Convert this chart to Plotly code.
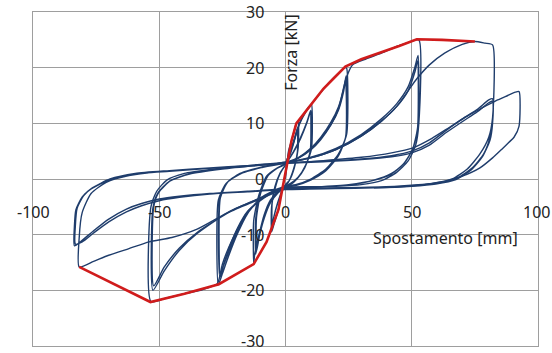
import plotly.graph_objects as go

# ---------------- data (displacement [mm], force [kN]) ----------------
# envelope (red)
env_x = [-81.7, -53.5, -40, -26.4, -12.6, -7.5, -2.8, -0.8, 0.4, 2.4, 4.3, 9.9, 15, 20, 23.7, 30, 37.9, 45, 52, 62, 75]
env_y = [-15.8, -22.1, -20.6, -18.9, -15.3, -11.3, -5.5, -0.9, 2.0, 6.9, 10.0, 13.3, 16.2, 18.5, 20.2, 21.5, 22.7, 23.9, 25.1, 25.0, 24.7]

# cycles at +/-5 mm
lv05_x = [0, 1.2, 2.4, 4.3, 5.0, 5.0, 3.5, 1.5, 0, -1.5, -2.8, -4.5, -5.5, -5.5, -4.0, -2.0, 0,
          2.0, 3.5, 4.8, 4.8, 3.2, 1.2, 0, -1.5, -3.2, -4.8, -5.4, -5.4, -4.2, -2.2, 0,
          2.0, 3.4, 4.7, 4.7, 3.1, 1.1, 0, -1.5, -3.2, -4.7, -5.3, -5.3, -4.1, -2.1, 0]
lv05_y = [0, 5.0, 6.9, 10.0, 10.3, 5.5, 2.0, -0.3, -1.0, -2.0, -5.5, -8.0, -9.5, -5.0, -1.5, 1.2, 2.5,
          4.8, 7.0, 9.2, 5.0, 1.8, -0.5, -1.1, -2.2, -4.5, -7.2, -8.8, -4.5, -1.4, 1.0, 2.6,
          4.6, 6.7, 8.8, 4.8, 1.6, -0.6, -1.2, -2.3, -4.4, -7.0, -8.5, -4.4, -1.3, 1.0, 2.6]

# cycles at +10 / -12 mm
lv10_x = [0, 3.0, 5.5, 8.0, 9.9, 10.3, 10.3, 8.0, 5.0, 2.0, 0, -3.0, -6.0, -8.5, -10.5, -12.2, -12.6, -12.6, -10.5, -7.5, -4.0, 0,
          3.0, 6.0, 8.5, 10.0, 10.0, 7.8, 4.8, 2.0, 0, -3.0, -6.0, -8.5, -10.5, -11.8, -11.8, -10.0, -7.0, -3.5, 0,
          3.0, 6.0, 8.4, 9.8, 9.8, 7.6, 4.7, 2.0, 0, -3.0, -6.0, -8.4, -10.3, -11.5, -11.5, -9.8, -6.9, -3.4, 0]
lv10_y = [2.6, 6.5, 10.0, 12.2, 13.3, 13.4, 5.5, 2.5, 0.3, -0.8, -1.2, -2.2, -3.8, -6.5, -10.0, -13.5, -15.2, -7.5, -2.8, 0.5, 1.8, 2.7,
          4.8, 7.5, 10.3, 12.3, 5.2, 2.2, 0.2, -0.9, -1.3, -2.4, -4.2, -7.0, -10.5, -13.5, -7.2, -2.6, 0.6, 1.9, 2.8,
          4.7, 7.3, 10.0, 11.9, 5.0, 2.0, 0.1, -1.0, -1.4, -2.5, -4.3, -7.0, -10.2, -13.0, -7.0, -2.5, 0.6, 1.9, 2.8]

# cycles at +24 / -26 mm
lv25_x = [0, 3, 5.5, 8, 10, 13, 17, 21, 23.7, 24.2, 24.2, 21, 16, 10, 4, 0, -5, -10, -15, -19, -22.5, -25, -26.6, -26.6, -23.5, -18, -10, -3, 0,
          5, 10, 14, 18, 21, 23.2, 24.0, 24.0, 21, 16, 10, 4, 0, -5, -10, -15, -19, -22, -24.5, -26.0, -26.0, -23, -17, -9, -3, 0,
          5, 10, 14, 18, 21, 23.0, 23.8, 23.8, 20.5, 15.5, 9.5, 4, 0, -5, -10, -15, -19, -22, -24.3, -25.8, -25.8, -22.8, -17, -9, -3, 0]
lv25_y = [2.8, 6.3, 9.8, 12.0, 13.3, 15.0, 17.2, 19.0, 20.0, 19.9, 8.0, 4.5, 1.8, 0, -1.0, -1.3, -2.2, -3.5, -6.2, -9.8, -13.8, -17.0, -19.0, -3.8, -0.8, 1.0, 2.0, 2.6, 2.8,
          3.8, 5.5, 7.5, 10.2, 13.0, 16.5, 18.5, 7.8, 4.2, 1.5, -0.2, -1.1, -1.4, -2.3, -3.8, -6.0, -9.2, -12.5, -15.5, -17.6, -3.5, -0.6, 1.1, 2.1, 2.7, 2.9,
          3.7, 5.2, 7.1, 9.7, 12.4, 15.7, 17.8, 7.5, 4.0, 1.3, -0.3, -1.2, -1.5, -2.4, -3.9, -5.8, -8.8, -12.0, -15.0, -17.0, -3.4, -0.5, 1.2, 2.2, 2.8, 3.0]

# cycles at +/-53 mm
lv50_x = [0, 5, 10, 14, 18, 21, 23.8, 26.5, 32, 38, 44, 49, 52.8, 52.8, 51.5, 48.5, 44, 38, 30, 20, 10, 0, -5, -10, -15, -19, -22.5, -25, -27, -33, -40, -48, -53.3, -53.3, -51, -47, -40, -30, -20, -10, 0,
          10, 20, 30, 38, 44, 48.5, 51.3, 52.5, 52.5, 50.5, 47, 42, 35, 25, 12, 0, -9, -22, -35, -42, -48, -52.5, -52.5, -50.5, -46, -38, -25, -10, 0,
          10, 20, 30, 38, 44, 48.5, 51.3, 52.3, 52.3, 50.2, 46.5, 41.5, 34.5, 24.5, 12, 0, -9, -22, -35, -42, -48, -52.2, -52.2, -50.2, -45.5, -37.5, -24.5, -10, 0]
lv50_y = [3.0, 3.8, 5.4, 7.3, 9.8, 12.6, 17.8, 20.5, 21.6, 22.6, 23.8, 24.6, 25.0, 10.0, 6.0, 3.2, 1.2, -0.3, -1.0, -1.3, -1.4, -1.5, -2.3, -3.7, -5.9, -9.0, -12.3, -15.3, -18.8, -19.9, -20.6, -21.5, -22.0, -5.0, -2.2, -0.2, 1.0, 1.7, 2.2, 2.6, 3.0,
          3.9, 5.5, 8.0, 10.8, 13.5, 16.5, 20.2, 22.2, 9.5, 5.5, 2.8, 1.0, -0.2, -1.0, -1.4, -1.6, -3.3, -5.8, -9.8, -12.8, -16.5, -20.0, -5.2, -2.5, -0.4, 0.9, 1.8, 2.5, 2.9,
          3.8, 5.3, 7.7, 10.4, 13.0, 15.8, 19.3, 21.2, 9.2, 5.2, 2.6, 0.8, -0.3, -1.1, -1.5, -1.7, -3.4, -5.9, -9.6, -12.4, -15.8, -19.2, -5.0, -2.4, -0.3, 1.0, 1.9, 2.5, 2.9]

# cycles at +/-82 mm
lv80_x = [0, 10, 20, 30, 38, 44, 48.5, 52, 57, 63, 70, 75, 79, 82, 82, 80.5, 77, 72, 66, 58, 45, 30, 15, 0, -10, -22, -35, -45, -54, -62, -70, -76, -81.7, -81.7, -80.5, -77, -71, -62, -50, -35, -20, -8, 0,
          15, 30, 42, 50, 57, 63.5, 70, 76, 80.5, 82, 82, 81, 78.5, 74, 68, 60, 50, 35, 20, 0, -15, -30, -42, -50, -57, -63, -70, -76, -81, -83.6, -83.6, -83, -80.5, -77, -70, -60, -46, -30, -15, 0,
          15, 30, 42, 50, 57, 63.5, 70, 76, 80.5, 82, 82, 81, 78, 73.5, 67.5, 59.5, 50, 35, 20, 0, -15, -30, -42, -50, -57, -63, -70, -76, -80.5, -83.2, -83.2, -82.5, -80, -76.5, -69.5, -59.5, -46, -30, -15, 0]
lv80_y = [2.9, 3.8, 5.3, 7.7, 10.4, 13.0, 15.8, 18.0, 20.5, 22.6, 24.2, 24.7, 24.4, 24.1, 11.0, 7.5, 4.5, 1.8, 0, -0.8, -1.3, -1.5, -1.6, -1.7, -3.4, -5.8, -9.0, -10.5, -11.3, -12.5, -13.7, -14.8, -15.8, -10.5, -6.0, -2.6, -0.6, 0.6, 1.3, 1.8, 2.2, 2.6, 2.9,
          3.2, 3.6, 4.2, 5.0, 6.5, 8.7, 10.8, 12.5, 14.2, 14.4, 10.5, 7.5, 4.5, 2.0, 0.2, -0.7, -1.1, -1.5, -1.6, -1.8, -2.2, -2.6, -3.1, -3.6, -4.4, -5.4, -7.2, -9.3, -11.2, -12.0, -8.5, -5.5, -3.2, -1.8, -0.2, 0.9, 1.4, 1.9, 2.3, 2.8,
          3.1, 3.5, 4.0, 4.7, 6.1, 8.3, 10.3, 12.1, 13.7, 14.0, 10.0, 7.0, 4.0, 1.6, -0.1, -0.9, -1.3, -1.6, -1.7, -1.9, -2.3, -2.7, -3.3, -3.9, -4.8, -5.9, -7.7, -9.7, -11.3, -11.7, -8.2, -5.2, -3.0, -1.6, 0.0, 1.0, 1.5, 2.0, 2.4, 2.8]

# last cycle to +93 mm
lv93_x = [0, 15, 30, 42, 50.5, 58, 65, 72, 78, 84, 88, 91, 92.5, 92.5, 90.5, 88.5, 86, 82, 77, 70, 63.5, 55, 45, 35]
lv93_y = [2.8, 3.3, 3.9, 4.7, 5.6, 7.3, 9.3, 11.3, 12.8, 14.2, 15.0, 15.6, 15.7, 9.5, 7.5, 6.6, 5.5, 3.8, 2.0, 0.5, -0.4, -1.0, -1.4, -1.6]

x_ticks = [-100, -50, 0, 50, 100]
y_ticks = [-30, -20, -10, 0, 10, 20, 30]

# ---------------- figure ----------------
NAVY = "#1f3d6c"
RED = "#d01c1c"
GRID = "#9e9e9e"
TXT = "#222222"
FONT = "Noto Sans"

fig = go.Figure()
for xs, ys in [(lv05_x, lv05_y), (lv10_x, lv10_y), (lv25_x, lv25_y),
               (lv50_x, lv50_y), (lv80_x, lv80_y), (lv93_x, lv93_y)]:
    fig.add_trace(go.Scatter(x=xs, y=ys, mode="lines",
                             line=dict(color=NAVY, width=1.4, shape="spline", smoothing=0.6),
                             hoverinfo="skip", showlegend=False))
fig.add_trace(go.Scatter(x=env_x, y=env_y, mode="lines",
                         line=dict(color=RED, width=2.6),
                         hoverinfo="skip", showlegend=False))

ann = []
for v in x_ticks:
    a = dict(x=v, y=-5.9, xref="x", yref="y", text=str(v), showarrow=False,
             xanchor="center", yanchor="middle",
             font=dict(family=FONT, size=16, color=TXT))
    if v == 100:
        a.update(xanchor="right", xshift=14)
    ann.append(a)
for v in y_ticks:
    a = dict(x=0, y=v, xref="x", yref="y", text=str(v), showarrow=False,
             xanchor="right", yanchor="middle", xshift=-20,
             font=dict(family=FONT, size=16, color=TXT))
    if v == -30:
        a.update(yanchor="bottom", yshift=-8)
    ann.append(a)
ann.append(dict(x=63.2, y=-10.6, xref="x", yref="y", text="Spostamento [mm]",
                showarrow=False, xanchor="center", yanchor="middle",
                font=dict(family=FONT, size=16, color=TXT)))
ann.append(dict(x=2.4, y=22.6, xref="x", yref="y", text="Forza [kN]", textangle=-90,
                showarrow=False, xanchor="center", yanchor="middle",
                font=dict(family=FONT, size=16, color=TXT)))

axis_common = dict(showgrid=True, gridcolor=GRID, gridwidth=1,
                   zeroline=True, zerolinecolor=GRID, zerolinewidth=1.3,
                   showline=True, mirror=True, linecolor=GRID, linewidth=1,
                   showticklabels=False, ticks="", fixedrange=True)

fig.update_layout(
    width=552, height=353,
    margin=dict(l=33, r=14, t=12, b=7),
    paper_bgcolor="white", plot_bgcolor="white",
    xaxis=dict(range=[-100, 100], tick0=-100, dtick=50, **axis_common),
    yaxis=dict(range=[-30, 30], tick0=-30, dtick=10, **axis_common),
    annotations=ann,
    showlegend=False,
)

# remove the browser's default 8 px body margin so the figure sits at the page origin
fig.write_html("out.html",
               config={"displayModeBar": False},
               post_script="document.body.style.margin='0';document.body.style.overflow='hidden';")
